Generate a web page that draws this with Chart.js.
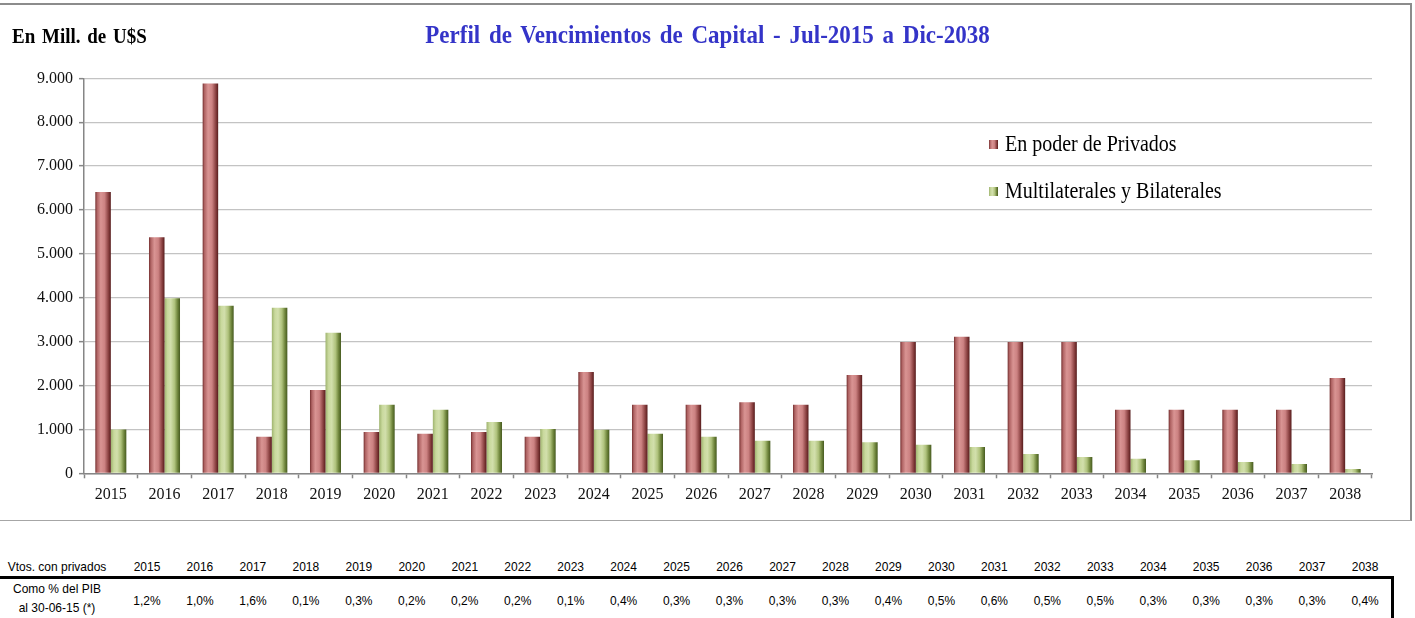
<!DOCTYPE html>
<html><head><meta charset="utf-8">
<script src="https://cdn.jsdelivr.net/npm/chart.js@4.4.1/dist/chart.umd.min.js"></script>
<style>
html,body{margin:0;padding:0;background:#fff;width:1415px;height:618px;overflow:hidden;position:relative;}
#frame{position:absolute;left:-2px;top:3px;width:1414px;height:518px;box-sizing:border-box;border-top:2px solid #8c8c8c;border-right:2px solid #8c8c8c;border-bottom:1px solid #a6a6a6;}
#wrap{position:absolute;left:0;top:0;width:1415px;height:520px;}
#title{position:absolute;left:0;width:1415px;top:22px;text-align:center;font:bold 23px "Liberation Serif",serif;color:#3434c8;word-spacing:3px;transform:scaleY(1.13);white-space:nowrap;}
#unit{position:absolute;left:12px;top:24px;font:bold 19px "Liberation Serif",serif;color:#000;word-spacing:2px;transform:scaleY(1.13);transform-origin:left top;white-space:nowrap;}
.t{position:absolute;font:12px "Liberation Sans",Arial,sans-serif;color:#000;text-align:center;white-space:nowrap;transform:scaleY(1.13);}
#thick{position:absolute;left:0;top:576px;width:1394px;height:3px;background:#000;}
#vline{position:absolute;left:1391px;top:576px;width:3px;height:50px;background:#000;}
</style></head>
<body>
<div id="frame"></div>
<div id="wrap"><canvas id="c" width="1415" height="520"></canvas></div>
<div id="title">Perfil de Vencimientos de Capital - Jul-2015 a Dic-2038</div>
<div id="unit">En Mill. de U$S</div>
<div id="thick"></div><div id="vline"></div>
<div id="table"></div>
<script>
const years = ['2015','2016','2017','2018','2019','2020','2021','2022','2023','2024','2025','2026','2027','2028','2029','2030','2031','2032','2033','2034','2035','2036','2037','2038'];
const privados = [6410,5380,8880,830,1900,940,900,940,830,2310,1560,1560,1620,1560,2240,2990,3110,2990,2990,1450,1450,1450,1450,2170];
const multilaterales = [1000,3990,3820,3770,3200,1560,1450,1170,1010,990,900,830,740,740,710,650,600,440,370,330,300,260,210,100];
const seriesNames = ['En poder de Privados','Multilaterales y Bilaterales'];
const pibPct = ['1,2%','1,0%','1,6%','0,1%','0,3%','0,2%','0,2%','0,2%','0,1%','0,4%','0,3%','0,3%','0,3%','0,3%','0,4%','0,5%','0,6%','0,5%','0,5%','0,3%','0,3%','0,3%','0,3%','0,4%'];
const tableRowLabel = 'Vtos. con privados';
const tableRow2 = ['Como % del PIB','al 30-06-15 (*)'];

const STOPS = [
  [[0,'#742f2f'],[0.12,'#b06464'],[0.35,'#d99493'],[0.6,'#cc8282'],[0.85,'#883f3f'],[1,'#561c1c']],
  [[0,'#9fb46f'],[0.2,'#c9d99d'],[0.4,'#d2dfac'],[0.65,'#afc27c'],[0.85,'#6e843b'],[1,'#465a20']]
];
function grad(ctx,l,r,di){const g=ctx.createLinearGradient(l,0,r,0);STOPS[di].forEach(s=>g.addColorStop(s[0],s[1]));return g;}

const barGrad={id:'barGrad',beforeDatasetsDraw(chart){
  const ctx=chart.ctx;
  chart.data.datasets.forEach((ds,di)=>{
    chart.getDatasetMeta(di).data.forEach(el=>{
      const l=el.x-el.width/2,r=el.x+el.width/2;
      el.options=Object.assign({},el.options,{backgroundColor:grad(ctx,l,r,di)});
    });
  });
}};
const legendPl={id:'legendPl',afterDraw(chart){
  const ctx=chart.ctx;const ys=[145,192];
  chart.data.datasets.forEach((ds,i)=>{
    const y=ys[i];
    ctx.save();
    ctx.fillStyle=grad(ctx,989,998,i);
    ctx.fillRect(989,y-5,9,9);
    ctx.translate(1005,y);ctx.scale(1,1.13);
    ctx.fillStyle='#000';ctx.font='20px "Liberation Serif", serif';ctx.textBaseline='middle';
    ctx.fillText(ds.label,0,0);
    ctx.restore();
  });
}};

function fmt(v){return String(v).replace(/\B(?=(\d{3})+(?!\d))/g,'.');}

new Chart(document.getElementById('c'),{
  type:'bar',
  data:{labels:years,datasets:[
    {label:seriesNames[0],data:privados,backgroundColor:'#c97f7f',borderWidth:0,categoryPercentage:0.578,barPercentage:1},
    {label:seriesNames[1],data:multilaterales,backgroundColor:'#b5c881',borderWidth:0,categoryPercentage:0.578,barPercentage:1}
  ]},
  options:{
    responsive:false,animation:false,
    layout:{padding:{left:0,right:43,top:78.3,bottom:0}},
    plugins:{legend:{display:false},title:{display:false},tooltip:{enabled:false}},
    scales:{
      x:{
        grid:{display:true,offset:true,drawOnChartArea:false,drawTicks:true,tickLength:5,tickColor:'#868686',tickWidth:1.5},
        border:{display:true,color:'#868686',width:1.5},
        ticks:{font:{family:'"Liberation Serif", serif',size:16},color:'#111',padding:7,maxRotation:0,autoSkip:false},
        afterFit(s){s.height=46.7;}
      },
      y:{
        min:0,max:9000,
        grid:{color:'#c3c3c3',lineWidth:1.3,drawTicks:true,tickLength:5,tickColor:'#868686',tickWidth:1.5},
        border:{display:true,color:'#868686',width:1.5},
        ticks:{stepSize:1000,font:{family:'"Liberation Serif", serif',size:16},color:'#111',padding:6,callback:v=>fmt(v)},
        afterFit(s){s.width=84;}
      }
    }
  },
  plugins:[barGrad,legendPl]
});

// bottom table
const tb=document.getElementById('table');
function addText(txt,cx,cy,w){const d=document.createElement('div');d.className='t';d.textContent=txt;d.style.left=(cx-w/2)+'px';d.style.width=w+'px';d.style.top=(cy-7)+'px';tb.appendChild(d);}
addText(tableRowLabel,57,566,110);
addText(tableRow2[0],57,588,110);
addText(tableRow2[1],57,607,110);
years.forEach((y,i)=>{const cx=147+52.96*i;addText(y,cx,566,50);addText(pibPct[i],cx,600,50);});
</script>
</body></html>
